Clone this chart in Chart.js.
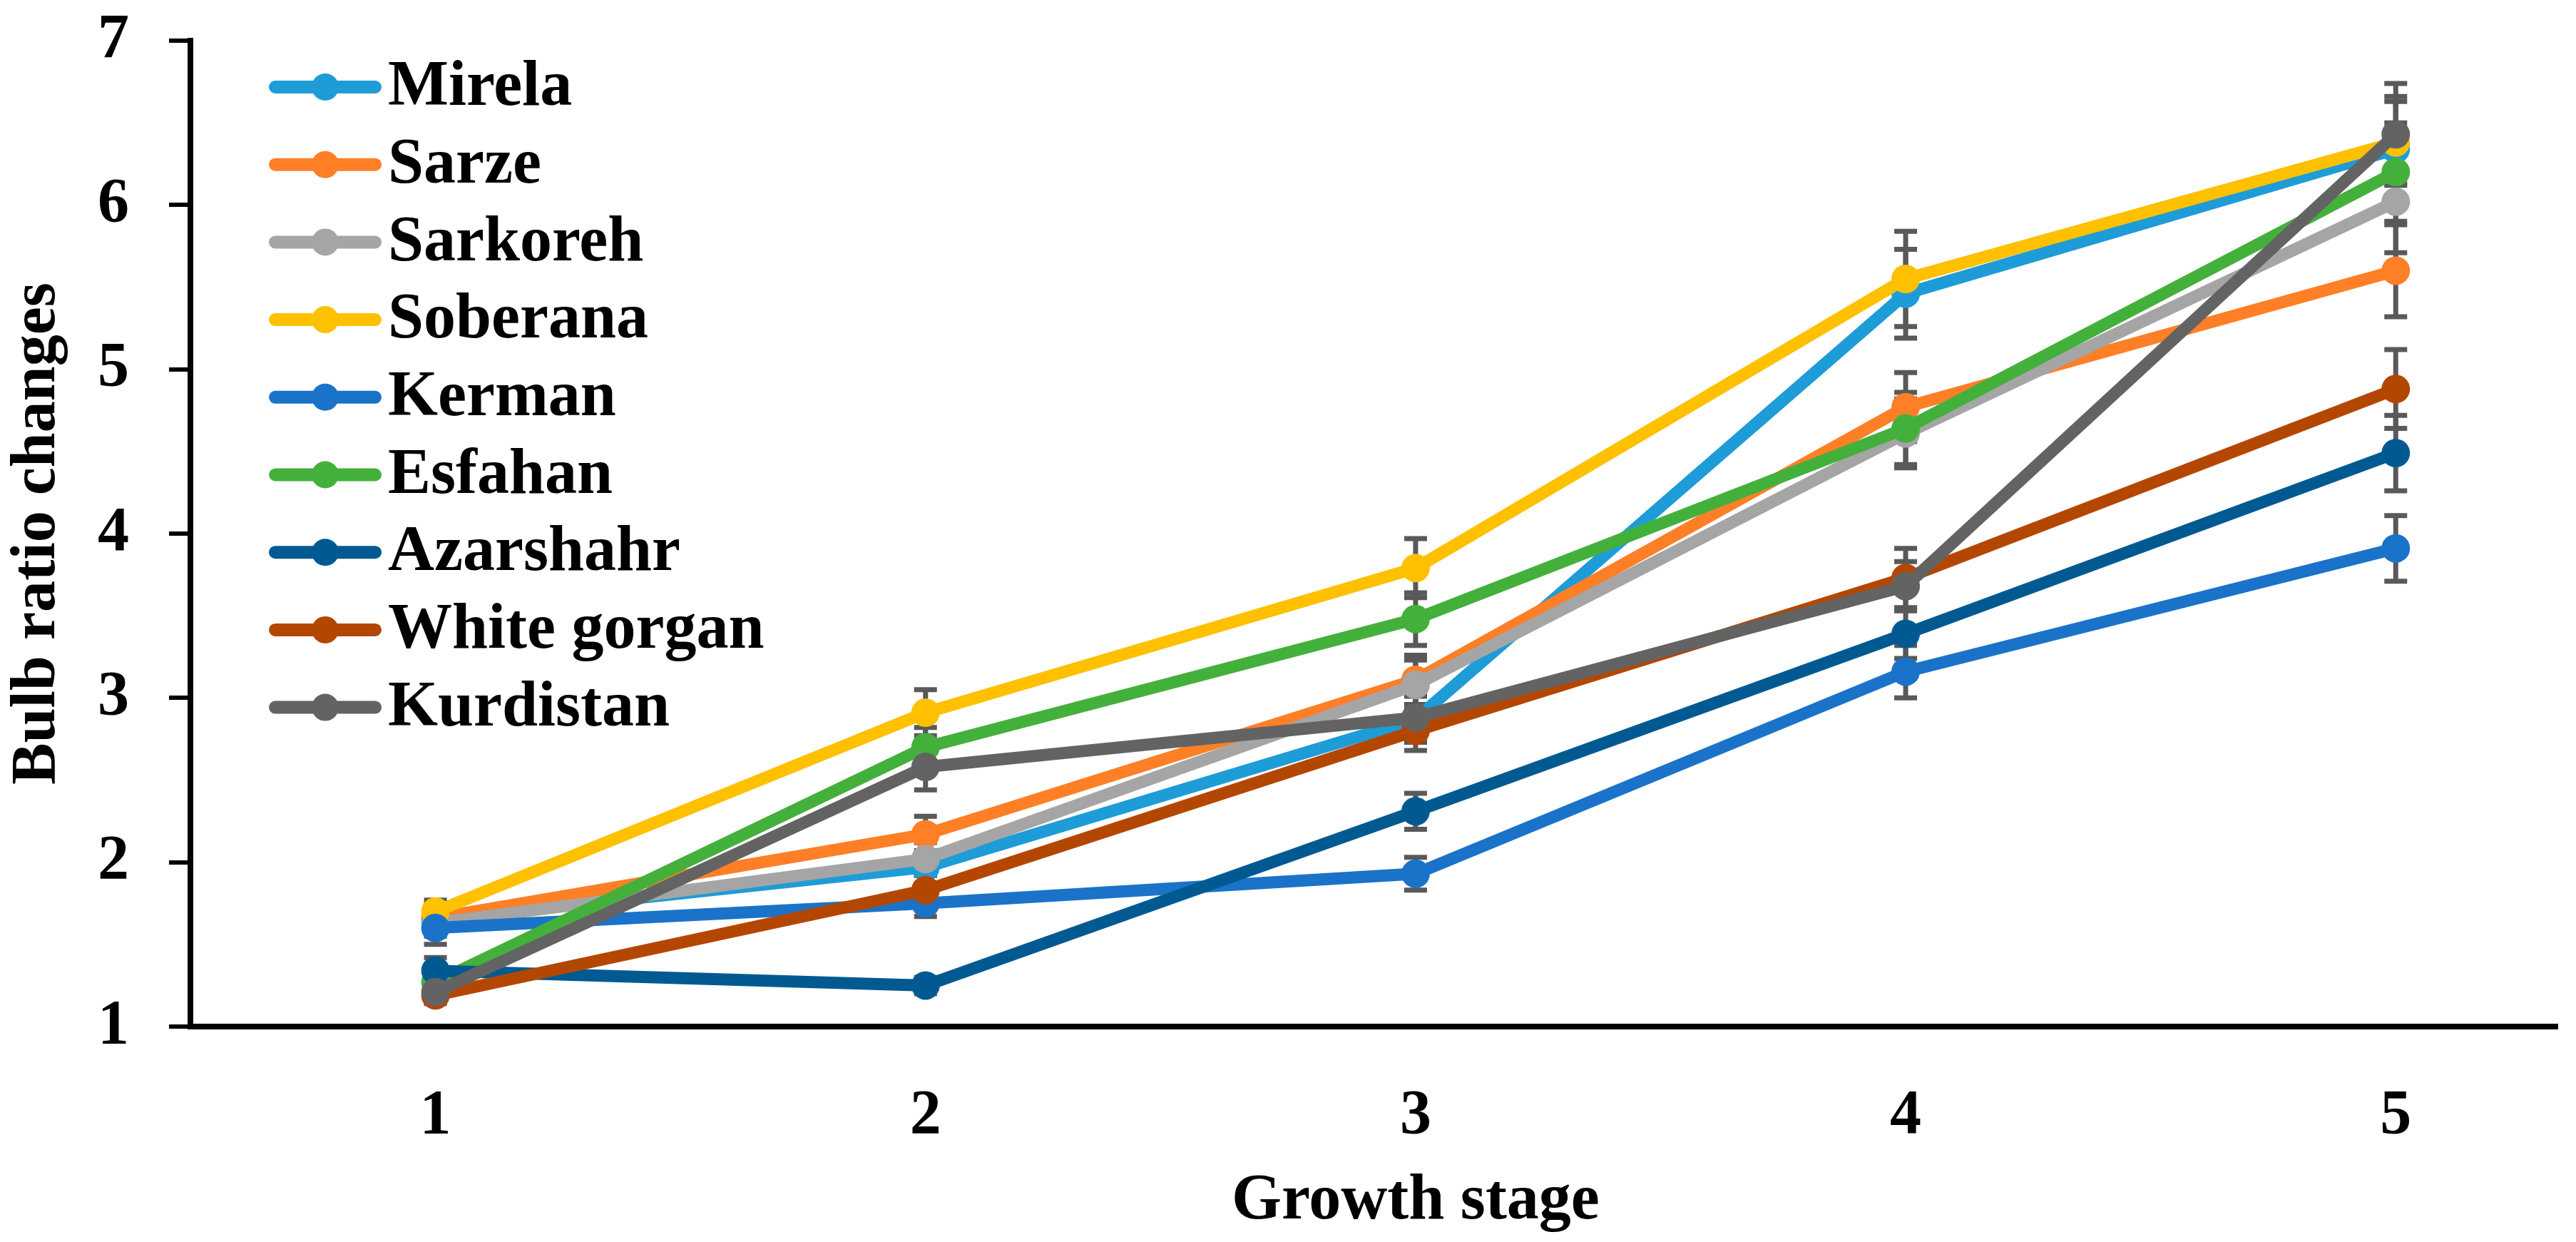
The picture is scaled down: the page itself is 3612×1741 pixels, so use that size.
<!DOCTYPE html>
<html>
<head>
<meta charset="utf-8">
<script src="https://cdn.jsdelivr.net/npm/chart.js@4.4.1/dist/chart.umd.min.js"></script>
<style>
  html, body { margin: 0; padding: 0; background: #fff; }
  #wrap { width: 3612px; height: 1741px; }
</style>
</head>
<body>
<div id="wrap"><canvas id="bulbChart" width="3612" height="1741"></canvas></div>
<script>
// growth stages on the x axis
const stages = [1, 2, 3, 4, 5];
const yTicks = [1, 2, 3, 4, 5, 6, 7];

const cultivars = ['Mirela', 'Sarze', 'Sarkoreh', 'Soberana', 'Kerman', 'Esfahan', 'Azarshahr', 'White gorgan', 'Kurdistan'];
const colors = ['#1E9CD7', '#FF7F27', '#A5A5A5', '#FFC000', '#1A73C8', '#44B03C', '#005A91', '#B44700', '#636363'];

// bulb ratio means per stage
const mirela      = [1.65, 1.97, 2.87, 5.46, 6.34];
const sarze       = [1.66, 2.17, 3.11, 4.77, 5.60];
const sarkoreh    = [1.63, 2.02, 3.08, 4.61, 6.02];
const soberana    = [1.70, 2.91, 3.79, 5.55, 6.38];
const kerman      = [1.60, 1.75, 1.93, 3.16, 3.91];
const esfahan     = [1.27, 2.70, 3.48, 4.64, 6.20];
const azarshahr   = [1.34, 1.25, 2.31, 3.39, 4.49];
const whiteGorgan = [1.19, 1.83, 2.80, 3.73, 4.88];
const kurdistan   = [1.21, 2.58, 2.88, 3.68, 6.43];

// standard errors
const mirelaErr      = [0.08, 0.10, 0.14, 0.27, 0.32];
const sarzeErr       = [0.08, 0.11, 0.15, 0.21, 0.28];
const sarkorehErr    = [0.08, 0.10, 0.15, 0.21, 0.31];
const soberanaErr    = [0.07, 0.14, 0.18, 0.29, 0.25];
const kermanErr      = [0.10, 0.08, 0.10, 0.16, 0.20];
const esfahanErr     = [0.06, 0.12, 0.16, 0.22, 0.30];
const azarshahrErr   = [0.08, 0.05, 0.11, 0.15, 0.23];
const whiteGorganErr = [0.05, 0.09, 0.12, 0.18, 0.24];
const kurdistanErr   = [0.06, 0.14, 0.14, 0.15, 0.31];

const series = [mirela, sarze, sarkoreh, soberana, kerman, esfahan, azarshahr, whiteGorgan, kurdistan];
const errors = [mirelaErr, sarzeErr, sarkorehErr, soberanaErr, kermanErr, esfahanErr, azarshahrErr, whiteGorganErr, kurdistanErr];

const FONT = 'Liberation Serif';
const bigFont = { family: FONT, size: 88, weight: 'bold' };

const datasets = cultivars.map((name, i) => ({
  label: name,
  data: stages.map((s, j) => ({ x: s, y: series[i][j], err: errors[i][j] })),
  borderColor: colors[i],
  backgroundColor: colors[i],
  borderWidth: 17,
  pointRadius: 20,
  pointHoverRadius: 20,
  pointBorderWidth: 0,
  pointBackgroundColor: colors[i],
  tension: 0,
  order: cultivars.length - i // later series on top, like the original
}));

const errorBars = {
  id: 'errorBars',
  beforeDatasetsDraw(chart) {
    const ctx = chart.ctx;
    const xs = chart.scales.x, ys = chart.scales.y;
    ctx.save();
    ctx.strokeStyle = '#595959';
    ctx.lineWidth = 7;
    chart.data.datasets.forEach(ds => {
      ds.data.forEach(p => {
        const px = xs.getPixelForValue(p.x);
        const top = ys.getPixelForValue(p.y + p.err);
        const bot = ys.getPixelForValue(p.y - p.err);
        ctx.beginPath();
        ctx.moveTo(px, top); ctx.lineTo(px, bot);
        ctx.moveTo(px - 16, top); ctx.lineTo(px + 16, top);
        ctx.moveTo(px - 16, bot); ctx.lineTo(px + 16, bot);
        ctx.stroke();
      });
    });
    ctx.restore();
  }
};

// legend drawn inside the plot, top left
const insideLegend = {
  id: 'insideLegend',
  afterDraw(chart) {
    const ctx = chart.ctx;
    const area = chart.chartArea;
    const x0 = area.left + 119, x1 = area.left + 259, cx = area.left + 189;
    ctx.save();
    ctx.font = 'bold 90px "' + FONT + '"';
    ctx.textBaseline = 'middle';
    ctx.textAlign = 'left';
    chart.data.datasets.forEach((ds, i) => {
      const y = area.top + 65 + i * 108.7;
      ctx.strokeStyle = ds.borderColor;
      ctx.lineWidth = 18;
      ctx.lineCap = 'round';
      ctx.beginPath(); ctx.moveTo(x0, y); ctx.lineTo(x1, y); ctx.stroke();
      ctx.fillStyle = ds.borderColor;
      ctx.beginPath(); ctx.arc(cx, y, 19, 0, Math.PI * 2); ctx.fill();
      ctx.fillStyle = '#000';
      ctx.fillText(ds.label, area.left + 277, y + 2);
    });
    ctx.restore();
  }
};

const xTitle = {
  id: 'xTitle',
  afterDraw(chart) {
    const ctx = chart.ctx;
    const xs = chart.scales.x;
    ctx.save();
    ctx.font = 'bold 90px "' + FONT + '"';
    ctx.fillStyle = '#000';
    ctx.textAlign = 'center';
    ctx.textBaseline = 'alphabetic';
    ctx.fillText('Growth stage', xs.getPixelForValue(stages[2]), xs.top + 269);
    ctx.restore();
  }
};

const ctx = document.getElementById('bulbChart').getContext('2d');
new Chart(ctx, {
  type: 'line',
  data: { datasets: datasets },
  options: {
    responsive: false,
    devicePixelRatio: 1,
    animation: false,
    layout: { padding: { left: 0, right: 26, top: 57, bottom: 0 } },
    plugins: {
      legend: { display: false },
      tooltip: { enabled: false }
    },
    scales: {
      x: {
        type: 'linear',
        min: 0.5,
        max: 5.33,
        afterBuildTicks: s => { s.ticks = stages.map(v => ({ value: v })); },
        afterFit: s => { s.height = 302; s.paddingLeft = 0; s.paddingRight = 0; },
        grid: { display: false, drawTicks: false },
        border: { display: true, color: '#000', width: 8 },
        ticks: { color: '#000', font: bigFont, padding: 73, maxRotation: 0, autoSkip: false }
      },
      y: {
        min: 1,
        max: 7,
        afterBuildTicks: s => { s.ticks = yTicks.map(v => ({ value: v })); },
        afterFit: s => { s.width = 267; s.paddingTop = 0; s.paddingBottom = 0; },
        grid: { display: true, drawOnChartArea: false, drawTicks: true, tickLength: 30, color: '#000', lineWidth: 6 },
        border: { display: true, color: '#000', width: 8 },
        ticks: { color: '#000', font: bigFont, padding: 56 },
        title: { display: true, text: 'Bulb ratio changes', color: '#000', font: bigFont, padding: { top: 0, bottom: 0 } }
      }
    }
  },
  plugins: [errorBars, insideLegend, xTitle]
});
</script>
</body>
</html>
